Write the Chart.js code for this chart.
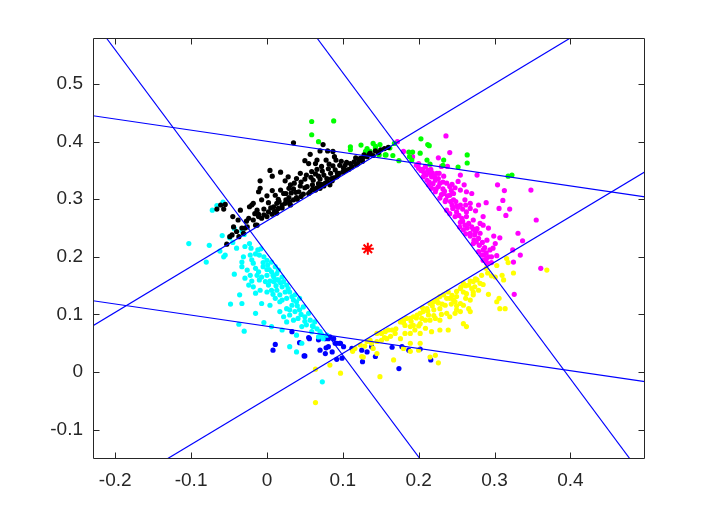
<!DOCTYPE html>
<html>
<head>
<meta charset="utf-8">
<script src="https://cdn.jsdelivr.net/npm/chart.js@4/dist/chart.umd.min.js"></script>
<style>
  html, body { margin: 0; padding: 0; background: #fff; }
  canvas { display: block; }
</style>
</head>
<body>
<canvas class="js-chart" width="713" height="517"></canvas>
<script>
const X_TICKS = [-0.2, -0.1, 0, 0.1, 0.2, 0.3, 0.4];
const Y_TICKS = [-0.1, 0, 0.1, 0.2, 0.3, 0.4, 0.5];
const X_RANGE = [-0.2293, 0.4984];
const Y_RANGE = [-0.151, 0.580];

const CENTER = [0.133, 0.214];

// separating lines, each given by two points on the plot border
const LINES = [
  [[-0.2117, 0.580], [0.2020, -0.151]],
  [[0.0659, 0.580], [0.4787, -0.151]],
  [[-0.2293, 0.445], [0.4984, 0.3043]],
  [[-0.2293, 0.1238], [0.4984, -0.0168]],
  [[-0.2293, 0.0804], [0.4000, 0.580]],
  [[-0.1318, -0.151], [0.4984, 0.3477]],
];

const BLACK_PTS = [
  [0.035,0.398],[0.074,0.395],[0.070,0.384],[0.080,0.384],[0.087,0.383],[0.057,0.378],[0.121,0.368],[0.126,0.371],
  [0.089,0.374],[0.091,0.368],[0.078,0.368],[0.066,0.368],[0.050,0.367],[0.064,0.362],[0.105,0.364],[0.096,0.359],
  [0.115,0.365],[0.123,0.371],[0.132,0.374],[0.136,0.380],[0.055,0.362],[0.072,0.357],[0.087,0.358],[0.101,0.354],
  [0.090,0.351],[0.081,0.353],[0.066,0.352],[0.059,0.348],[0.004,0.350],[0.018,0.347],[0.044,0.345],[0.052,0.342],
  [0.064,0.344],[0.075,0.342],[0.084,0.345],[0.094,0.342],[0.007,0.340],[0.028,0.339],[0.039,0.336],[0.050,0.335],
  [0.061,0.333],[0.070,0.335],[0.079,0.336],[0.086,0.332],[0.092,0.339],[-0.009,0.332],[0.024,0.332],[0.031,0.325],
  [0.036,0.328],[0.044,0.323],[0.053,0.322],[0.060,0.325],[0.068,0.327],[0.077,0.328],[0.083,0.325],[0.029,0.319],
  [0.018,0.316],[0.007,0.315],[-0.009,0.319],[-0.011,0.313],[0.000,0.306],[0.011,0.307],[0.022,0.310],[0.032,0.311],
  [0.042,0.313],[0.048,0.309],[0.057,0.313],[0.064,0.316],[0.070,0.319],[0.039,0.303],[0.035,0.299],[0.029,0.303],
  [0.025,0.299],[-0.018,0.293],[-0.020,0.290],[-0.007,0.299],[0.002,0.294],[0.013,0.293],[0.009,0.287],[0.020,0.290],
  [0.024,0.293],[0.031,0.290],[0.015,0.284],[-0.035,0.281],[-0.023,0.287],[-0.013,0.281],[-0.011,0.274],[-0.004,0.273],
  [0.002,0.278],[0.007,0.274],[0.013,0.276],[-0.045,0.270],[-0.038,0.264],[-0.024,0.267],[-0.018,0.264],[-0.011,0.270],
  [-0.007,0.267],[-0.029,0.250],[-0.013,0.255],[-0.044,0.252],[-0.049,0.235],[-0.046,0.238],[-0.055,0.291],[-0.057,0.283],
  [-0.066,0.283],[-0.061,0.290],[-0.053,0.222],[-0.037,0.235],[-0.031,0.241],[-0.026,0.252],[-0.015,0.255],
  [0.000,0.270],[0.010,0.279],[0.020,0.285],[0.030,0.295],[0.040,0.300],[0.045,0.305],[0.055,0.310],[0.060,0.317],
  [0.066,0.320],[0.075,0.323],[0.080,0.330],[0.088,0.337],[0.095,0.345],[0.100,0.347],[0.108,0.352],[0.112,0.356],
  [0.118,0.360],[0.126,0.366],[0.140,0.376],[0.147,0.381],[0.155,0.388],[0.160,0.390],[0.150,0.386],[0.143,0.384],
  [-0.040,0.244],[-0.033,0.250],[-0.027,0.262],[-0.016,0.275],[-0.004,0.283],[0.005,0.285],[0.016,0.296],[0.015,0.300],
  [0.025,0.310],[0.030,0.292],[0.035,0.318],[0.038,0.312],[0.045,0.330],[0.050,0.320],[0.058,0.338],[0.062,0.318],
  [0.068,0.340],[0.072,0.326],[0.073,0.349],[0.082,0.361],[0.085,0.336],[0.093,0.345],[0.098,0.366],[0.103,0.359],
  [0.104,0.350],[0.110,0.362],[0.112,0.357],[0.117,0.372],[0.120,0.362],[0.128,0.377],[0.135,0.378],
];

const GREEN_PTS = [
  [0.059,0.435],[0.088,0.436],[0.059,0.412],[0.068,0.400],[0.110,0.391],[0.110,0.386],[0.124,0.394],[0.132,0.388],
  [0.130,0.383],[0.140,0.397],[0.149,0.395],[0.148,0.377],[0.156,0.377],[0.136,0.383],[0.143,0.389],[0.162,0.389],
  [0.168,0.397],[0.157,0.377],[0.166,0.376],[0.174,0.367],[0.187,0.382],[0.192,0.382],[0.188,0.374],[0.203,0.405],
  [0.212,0.395],[0.214,0.393],[0.202,0.380],[0.191,0.368],[0.211,0.368],[0.215,0.361],[0.233,0.368],[0.232,0.359],
  [0.252,0.356],[0.264,0.377],[0.264,0.363],[0.318,0.340],[0.323,0.342],[0.130,0.382],[0.143,0.392],
];

const MAGENTA_PTS = [
  [0.236,0.410],[0.172,0.400],[0.180,0.383],[0.192,0.374],[0.241,0.381],[0.226,0.372],[0.197,0.359],[0.200,0.354],
  [0.209,0.357],[0.215,0.345],[0.217,0.339],[0.230,0.357],[0.238,0.357],[0.255,0.342],[0.277,0.342],[0.206,0.339],
  [0.211,0.333],[0.222,0.333],[0.226,0.336],[0.228,0.328],[0.237,0.328],[0.241,0.322],[0.252,0.331],[0.213,0.325],
  [0.217,0.319],[0.222,0.313],[0.233,0.310],[0.241,0.307],[0.255,0.316],[0.263,0.313],[0.270,0.310],[0.228,0.302],
  [0.235,0.296],[0.246,0.299],[0.255,0.290],[0.261,0.299],[0.268,0.293],[0.279,0.290],[0.289,0.294],[0.237,0.281],
  [0.241,0.275],[0.250,0.278],[0.257,0.267],[0.263,0.270],[0.272,0.264],[0.281,0.258],[0.285,0.255],[0.277,0.249],
  [0.254,0.252],[0.259,0.247],[0.268,0.241],[0.274,0.238],[0.281,0.241],[0.290,0.229],[0.272,0.223],[0.279,0.209],
  [0.285,0.212],[0.292,0.200],[0.296,0.200],[0.303,0.202],[0.285,0.194],[0.290,0.189],[0.304,0.325],[0.313,0.315],
  [0.348,0.316],[0.311,0.298],[0.306,0.284],[0.320,0.283],[0.315,0.272],[0.355,0.264],[0.299,0.236],[0.307,0.233],
  [0.301,0.223],[0.331,0.241],[0.337,0.228],[0.324,0.212],[0.334,0.203],[0.325,0.191],[0.361,0.180],[0.326,0.135],
  [0.203,0.350],[0.207,0.346],[0.212,0.350],[0.218,0.346],[0.210,0.342],[0.220,0.340],[0.224,0.345],[0.214,0.330],
  [0.219,0.327],[0.226,0.322],[0.232,0.318],[0.223,0.318],[0.230,0.308],[0.234,0.314],[0.243,0.315],[0.246,0.310],
  [0.238,0.306],[0.244,0.290],[0.249,0.296],[0.252,0.286],[0.258,0.283],[0.245,0.284],[0.263,0.278],[0.268,0.284],
  [0.253,0.272],[0.258,0.262],[0.266,0.258],[0.264,0.250],[0.270,0.252],[0.275,0.244],[0.268,0.236],[0.273,0.229],
  [0.279,0.232],[0.280,0.220],[0.287,0.216],[0.283,0.203],[0.289,0.207],[0.294,0.212],[0.289,0.196],
  [0.200,0.362],[0.205,0.352],[0.216,0.352],[0.221,0.338],[0.232,0.330],[0.244,0.326],[0.248,0.320],[0.236,0.299],
  [0.242,0.296],[0.250,0.288],[0.248,0.270],[0.262,0.290],[0.255,0.260],[0.261,0.255],[0.272,0.248],[0.262,0.240],
  [0.276,0.226],[0.284,0.225],[0.286,0.203],[0.296,0.190],[0.227,0.345],[0.233,0.340],[0.260,0.325],[0.285,0.270],
  [0.275,0.280],[0.292,0.250],[0.298,0.215],
];

const YELLOW_PTS = [
  [0.316,0.197],[0.318,0.190],[0.303,0.185],[0.289,0.180],[0.291,0.172],[0.296,0.167],[0.301,0.165],[0.310,0.168],
  [0.312,0.160],[0.325,0.172],[0.369,0.177],[0.292,0.135],[0.303,0.122],[0.306,0.128],[0.307,0.110],[0.314,0.110],
  [0.277,0.160],[0.281,0.154],[0.272,0.157],[0.266,0.151],[0.259,0.154],[0.255,0.145],[0.259,0.139],[0.263,0.136],
  [0.272,0.139],[0.274,0.148],[0.268,0.125],[0.272,0.134],[0.279,0.142],[0.250,0.131],[0.246,0.125],[0.241,0.128],
  [0.248,0.122],[0.255,0.119],[0.259,0.116],[0.266,0.110],[0.268,0.105],[0.263,0.079],[0.259,0.084],[0.250,0.108],
  [0.239,0.139],[0.233,0.134],[0.228,0.131],[0.224,0.125],[0.220,0.122],[0.215,0.119],[0.235,0.116],[0.228,0.110],
  [0.220,0.108],[0.211,0.110],[0.206,0.105],[0.213,0.099],[0.202,0.102],[0.198,0.099],[0.193,0.096],[0.189,0.093],
  [0.184,0.093],[0.180,0.090],[0.176,0.087],[0.182,0.081],[0.189,0.079],[0.193,0.081],[0.202,0.084],[0.209,0.090],
  [0.215,0.090],[0.222,0.093],[0.228,0.090],[0.237,0.102],[0.241,0.096],[0.248,0.102],[0.255,0.105],[0.239,0.073],
  [0.228,0.073],[0.217,0.070],[0.209,0.076],[0.202,0.067],[0.195,0.073],[0.189,0.067],[0.182,0.067],[0.176,0.058],
  [0.169,0.067],[0.165,0.073],[0.160,0.073],[0.156,0.070],[0.151,0.067],[0.145,0.067],[0.158,0.058],[0.151,0.055],
  [0.145,0.053],[0.138,0.050],[0.132,0.053],[0.123,0.047],[0.202,0.050],[0.189,0.050],[0.189,0.036],[0.200,0.038],
  [0.215,0.026],[0.222,0.029],[0.226,0.016],[0.167,0.021],[0.149,-0.008],[0.129,0.045],[0.140,0.041],[0.127,0.026],
  [0.145,0.032],[0.136,0.055],[0.180,0.041],[0.204,0.093],[0.064,0.005],[0.083,0.012],[0.097,-0.002],[0.064,-0.053],
  [0.116,0.041],[0.125,0.027],[0.113,0.036],
  [0.180,0.086],[0.190,0.088],[0.197,0.094],[0.205,0.112],[0.212,0.106],[0.218,0.115],[0.226,0.120],[0.231,0.118],
  [0.237,0.128],[0.244,0.133],[0.250,0.140],[0.256,0.148],[0.262,0.150],[0.268,0.158],[0.275,0.162],[0.283,0.168],
  [0.243,0.118],[0.230,0.100],[0.220,0.098],[0.200,0.080],[0.170,0.075],[0.163,0.062],[0.155,0.060],[0.262,0.128],
  [0.250,0.115],[0.285,0.152],[0.270,0.145],
];

const CYAN_PTS = [
  [-0.072,0.281],[-0.066,0.289],[-0.058,0.295],[-0.043,0.249],[-0.033,0.245],[-0.030,0.239],[-0.032,0.249],[-0.059,0.237],
  [-0.049,0.233],[-0.103,0.223],[-0.076,0.220],[-0.080,0.191],[-0.062,0.210],[-0.057,0.200],[-0.055,0.203],[-0.043,0.170],
  [-0.036,0.134],[-0.048,0.118],[-0.033,0.119],[-0.015,0.102],[-0.037,0.083],[-0.030,0.071],[-0.007,0.119],[-0.004,0.086],
  [-0.029,0.218],[-0.023,0.223],[-0.021,0.215],[-0.031,0.200],[-0.033,0.191],[-0.033,0.183],[-0.029,0.163],[-0.024,0.151],
  [-0.018,0.148],[-0.022,0.203],[-0.018,0.189],[-0.012,0.212],[-0.008,0.214],[-0.010,0.203],[-0.004,0.200],[0.000,0.194],
  [-0.015,0.180],[-0.011,0.174],[-0.005,0.183],[0.001,0.186],[0.006,0.191],[-0.013,0.168],[-0.007,0.165],[0.000,0.168],
  [0.006,0.174],[0.011,0.183],[0.013,0.171],[-0.002,0.157],[0.002,0.151],[0.009,0.157],[0.015,0.160],[0.020,0.165],
  [0.000,0.139],[0.006,0.142],[0.013,0.142],[0.020,0.148],[0.026,0.151],[0.024,0.139],[0.017,0.134],[0.030,0.139],
  [0.011,0.128],[0.017,0.122],[0.026,0.128],[0.033,0.131],[0.037,0.134],[0.004,0.116],[0.017,0.105],[0.026,0.110],
  [0.033,0.116],[0.039,0.122],[0.043,0.128],[0.022,0.096],[0.030,0.099],[0.037,0.105],[0.043,0.108],[0.048,0.113],
  [0.026,0.087],[0.035,0.090],[0.041,0.093],[0.050,0.096],[0.055,0.102],[0.057,0.090],[0.063,0.087],[0.061,0.079],
  [0.052,0.082],[0.046,0.079],[0.059,0.070],[0.070,0.070],[0.068,0.061],[0.074,0.058],[0.079,0.064],[0.039,0.064],
  [0.046,0.050],[0.030,0.044],[0.039,0.035],[0.020,0.073],[0.006,0.079],[-0.015,0.137],[-0.009,0.142],[-0.022,0.168],
  [-0.026,0.177],[0.009,0.165],[0.015,0.177],[0.022,0.157],[0.073,-0.017],
  [-0.020,0.195],[-0.015,0.205],[-0.005,0.190],[0.003,0.178],[0.008,0.168],[-0.020,0.158],[-0.010,0.160],[0.004,0.158],
  [0.012,0.150],[0.018,0.155],[0.028,0.145],[0.008,0.135],[0.020,0.125],[0.035,0.125],[0.040,0.115],[0.030,0.108],
  [0.045,0.100],[0.050,0.088],[0.060,0.080],[0.066,0.075],[0.072,0.065],[-0.040,0.215],[-0.045,0.225],[0.000,0.178],
  [0.013,0.160],
];

const BLUE_PTS = [
  [0.033,0.070],[0.011,0.048],[0.008,0.038],[0.043,0.051],[0.049,0.028],[0.056,0.058],[0.070,0.038],[0.078,0.042],
  [0.086,0.035],[0.092,0.050],[0.097,0.050],[0.101,0.044],[0.081,0.058],[0.092,0.022],[0.099,0.024],[0.055,0.060],
  [0.068,0.056],[0.070,0.061],[0.077,0.058],[0.083,0.061],[0.088,0.058],[0.090,0.050],[0.077,0.032],[0.081,0.044],
  [0.096,0.050],[0.112,0.041],[0.125,0.038],[0.126,0.018],[0.132,0.035],[0.138,0.044],[0.143,0.027],[0.165,0.043],
  [0.178,0.044],[0.187,0.038],[0.202,0.040],[0.216,0.021],[0.174,0.006],[0.050,0.028],
];

const AXIS_COLOR = "#262626";
const TICK_LEN = 6;

const ctx = document.querySelector(".js-chart").getContext("2d");

function toXY(pts) {
  return pts.map(([x, y]) => ({ x, y }));
}

function cloud(pts, color) {
  return {
    type: "scatter",
    data: toXY(pts),
    backgroundColor: color,
    borderWidth: 0,
    pointRadius: 2.6,
    order: 2,
  };
}

function line(seg) {
  return {
    type: "line",
    data: toXY(seg),
    borderColor: "#0000ff",
    borderWidth: 1.2,
    pointRadius: 0,
    fill: false,
    order: 1,
  };
}

// box with inward tick marks on all four sides, like the original plot
const frame = {
  id: "frame",
  afterDatasetsDraw(chart) {
    const { ctx, chartArea: a, scales } = chart;
    const L = Math.round(a.left) + 0.5, R = Math.round(a.right) - 0.5;
    const T = Math.round(a.top) + 0.5, B = Math.round(a.bottom) - 0.5;
    ctx.save();
    ctx.strokeStyle = AXIS_COLOR;
    ctx.lineWidth = 1;
    ctx.beginPath();
    X_TICKS.forEach((v) => {
      const p = Math.round(scales.x.getPixelForValue(v)) + 0.5;
      ctx.moveTo(p, B); ctx.lineTo(p, B - TICK_LEN);
      ctx.moveTo(p, T); ctx.lineTo(p, T + TICK_LEN);
    });
    Y_TICKS.forEach((v) => {
      const p = Math.round(scales.y.getPixelForValue(v)) + 0.5;
      ctx.moveTo(L, p); ctx.lineTo(L + TICK_LEN, p);
      ctx.moveTo(R, p); ctx.lineTo(R - TICK_LEN, p);
    });
    ctx.rect(L, T, R - L, B - T);
    ctx.stroke();
    ctx.restore();
  },
};

const tickFont = { family: "'Liberation Sans', Arial, sans-serif", size: 19 };

new Chart(ctx, {
  type: "scatter",
  data: {
    datasets: [
      ...LINES.map(line),
      {
        type: "scatter",
        data: toXY([CENTER]),
        pointStyle: "star",
        pointRadius: 6,
        borderColor: "#ff0000",
        backgroundColor: "#ff0000",
        borderWidth: 2,
        order: 0,
      },
      cloud(BLACK_PTS, "#000000"),
      cloud(GREEN_PTS, "#00ff00"),
      cloud(MAGENTA_PTS, "#ff00ff"),
      cloud(YELLOW_PTS, "#ffff00"),
      cloud(CYAN_PTS, "#00ffff"),
      cloud(BLUE_PTS, "#0000ff"),
    ],
  },
  plugins: [frame],
  options: {
    responsive: false,
    animation: false,
    devicePixelRatio: 1,
    layout: { padding: { top: 38, right: 68, left: 0, bottom: 0 } },
    plugins: { legend: { display: false }, tooltip: { enabled: false } },
    scales: {
      x: {
        type: "linear",
        min: X_RANGE[0],
        max: X_RANGE[1],
        grid: { display: false, drawTicks: false },
        border: { display: false },
        afterBuildTicks(scale) {
          scale.ticks = X_TICKS.map((value) => ({ value }));
        },
        afterFit(scale) {
          scale.height = 58;
        },
        ticks: {
          font: tickFont,
          color: AXIS_COLOR,
          padding: 10,
          maxRotation: 0,
          callback: (v) => String(v),
        },
      },
      y: {
        type: "linear",
        min: Y_RANGE[0],
        max: Y_RANGE[1],
        grid: { display: false, drawTicks: false },
        border: { display: false },
        afterBuildTicks(scale) {
          scale.ticks = Y_TICKS.map((value) => ({ value }));
        },
        afterFit(scale) {
          scale.width = 93;
        },
        ticks: {
          font: tickFont,
          color: AXIS_COLOR,
          padding: 10,
          callback: (v) => String(v),
        },
      },
    },
  },
});
</script>
</body>
</html>
